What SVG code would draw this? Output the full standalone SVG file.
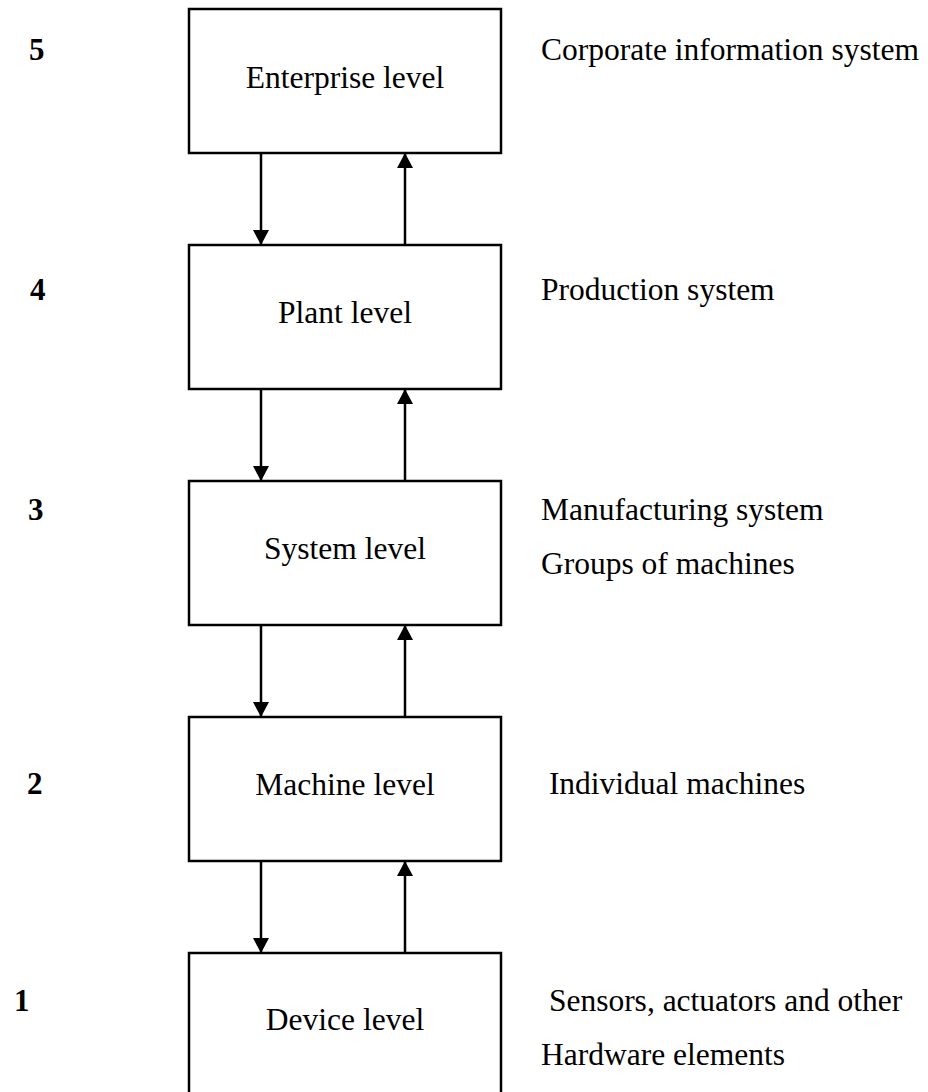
<svg xmlns="http://www.w3.org/2000/svg" width="928" height="1092" viewBox="0 0 928 1092">
  <style>
    .box { fill: #ffffff; stroke: #000000; stroke-width: 2.5; }
    .lbl { font-family: "Liberation Serif", "Times New Roman", serif; font-size: 31.5px; fill: #000000; }
    .mid { text-anchor: middle; }
    .num { font-family: "Liberation Serif", "Times New Roman", serif; font-size: 31px; font-weight: bold; fill: #000000; }
    .link { stroke: #000000; stroke-width: 2.5; fill: none; marker-end: url(#head); }
  </style>
  <defs>
    <marker id="head" viewBox="0 0 15 16" refX="15" refY="8" markerWidth="15" markerHeight="16" markerUnits="userSpaceOnUse" orient="auto">
      <path d="M0,0 L15,8 L0,16 Z" fill="#000000"/>
    </marker>
  </defs>

  <rect width="928" height="1092" fill="#ffffff"/>

  <!-- level boxes -->
  <g id="enterprise">
    <rect class="box" x="189" y="9" width="312" height="144"/>
    <text class="lbl mid" x="345" y="88">Enterprise level</text>
  </g>
  <g id="plant">
    <rect class="box" x="189" y="245" width="312" height="144"/>
    <text class="lbl mid" x="345" y="323">Plant level</text>
  </g>
  <g id="system">
    <rect class="box" x="189" y="481" width="312" height="144"/>
    <text class="lbl mid" x="345" y="559">System level</text>
  </g>
  <g id="machine">
    <rect class="box" x="189" y="717" width="312" height="144"/>
    <text class="lbl mid" x="345" y="795">Machine level</text>
  </g>
  <g id="device">
    <rect class="box" x="189" y="953" width="312" height="150"/>
    <text class="lbl mid" x="345" y="1030">Device level</text>
  </g>

  <!-- level numbers -->
  <g id="numbers">
    <text class="num" x="29" y="60">5</text>
    <text class="num" x="30" y="300">4</text>
    <text class="num" x="28" y="520">3</text>
    <text class="num" x="27" y="794">2</text>
    <text class="num" x="14" y="1011">1</text>
  </g>

  <!-- descriptions -->
  <g id="descriptions">
    <text class="lbl" x="541" y="60">Corporate information system</text>
    <text class="lbl" x="541" y="300">Production system</text>
    <text class="lbl" x="541" y="520">Manufacturing system</text>
    <text class="lbl" x="541" y="574">Groups of machines</text>
    <text class="lbl" x="541" y="794" xml:space="preserve"> Individual machines</text>
    <text class="lbl" x="541" y="1011" xml:space="preserve"> Sensors, actuators and other</text>
    <text class="lbl" x="541" y="1065">Hardware elements</text>
  </g>

  <!-- connectors: down on the left, up on the right -->
  <g id="connectors">
    <line class="link" x1="261" y1="153" x2="261" y2="245"/>
    <line class="link" x1="405" y1="245" x2="405" y2="153"/>
    <line class="link" x1="261" y1="389" x2="261" y2="481"/>
    <line class="link" x1="405" y1="481" x2="405" y2="389"/>
    <line class="link" x1="261" y1="625" x2="261" y2="717"/>
    <line class="link" x1="405" y1="717" x2="405" y2="625"/>
    <line class="link" x1="261" y1="861" x2="261" y2="953"/>
    <line class="link" x1="405" y1="953" x2="405" y2="861"/>
  </g>
</svg>
